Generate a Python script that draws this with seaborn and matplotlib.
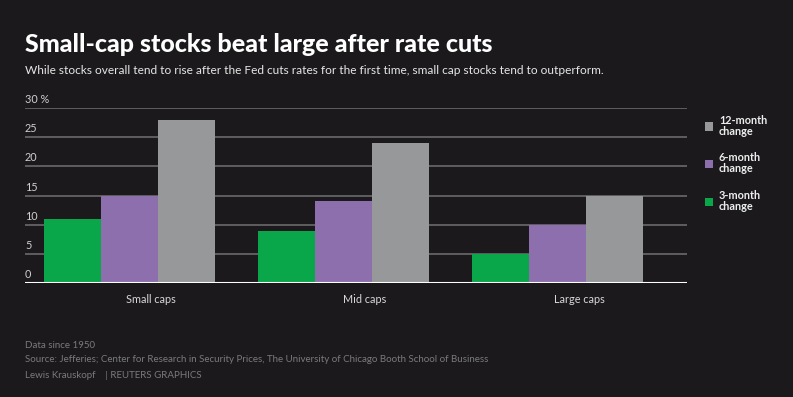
import matplotlib
matplotlib.use("Agg")
import matplotlib.pyplot as plt
import seaborn as sns
import pandas as pd
from matplotlib.patches import Patch

categories = ["Small caps", "Mid caps", "Large caps"]
series_names = ["3-month change", "6-month change", "12-month change"]
three_month = [11, 9, 5]
six_month = [15, 14, 10]
twelve_month = [28, 24, 15]
y_ticks = [0, 5, 10, 15, 20, 25, 30]
y_tick_labels = ["0", "5", "10", "15", "20", "25", "30 %"]
legend_labels = ["3-month\nchange", "6-month\nchange", "12-month\nchange"]

colors = ["#0aa64a", "#8e6fae", "#97989a"]
BG = "#1b191c"

rows = []
for name, vals in zip(series_names, [three_month, six_month, twelve_month]):
    for c, v in zip(categories, vals):
        rows.append({"category": c, "series": name, "value": v})
df = pd.DataFrame(rows)

sns.set_theme(style="dark")
plt.rcParams["font.family"] = ["Lato", "DejaVu Sans"]

fig = plt.figure(figsize=(7.93, 3.97), dpi=100, facecolor=BG)
ax = fig.add_axes([25/793, 1-283/397, (687-25)/793, (283-108)/397])
ax.set_facecolor(BG)

sns.barplot(data=df, x="category", y="value", hue="series", order=categories,
            hue_order=series_names, palette=colors, width=0.8, ax=ax,
            saturation=1, legend=False, linewidth=0)

ax.set_ylim(0, 30)
ax.set_xlim(-0.488, 2.605)
ax.set_yticks(y_ticks)
ax.set_yticklabels([])
ax.tick_params(axis="y", length=0)
ax.grid(False)
for t in y_ticks[1:]:
    ax.axhline(t, color="#6a696c", lw=1.2, zorder=0)
for t, lab in zip(y_ticks, y_tick_labels):
    ax.text(0.0, t + 0.5, lab, transform=ax.get_yaxis_transform(),
            color="#d0d0d0", fontsize=7.8, ha="left", va="bottom")
ax.axhline(0, color="#ffffff", lw=1.5, zorder=5)

ax.set_xticks([0.1, 1.1, 2.1])
ax.set_xticklabels(categories, color="#d8d8d8", fontsize=7.8)
ax.tick_params(axis="x", length=4, width=1, color="#777777", pad=4, direction="out")
ax.set_xlabel("")
ax.set_ylabel("")
for s in ax.spines.values():
    s.set_visible(False)

handles = [Patch(facecolor=c, edgecolor="none") for c in colors]
leg = fig.legend(handles[::-1], legend_labels[::-1], loc="upper left",
                 bbox_to_anchor=(695/793, 1-105/397), frameon=False,
                 handlelength=0.8, handleheight=0.8, handletextpad=0.5,
                 labelspacing=1.45, prop={"weight": "bold", "size": 7.8})
for t in leg.get_texts():
    t.set_color("#eeeeee")
    t.set_linespacing(1.0)

fig.text(25/793, 1-44/397, "Small-cap stocks beat large after rate cuts",
         color="white", fontsize=18, fontweight="black", va="center", ha="left")
fig.text(25/793, 1-71/397,
         "While stocks overall tend to rise after the Fed cuts rates for the first time, small cap stocks tend to outperform.",
         color="#e6e6e6", fontsize=8.6, va="center", ha="left")
footer = ["Data since 1950",
          "Source: Jefferies; Center for Research in Security Prices, The University of Chicago Booth School of Business",
          "Lewis Krauskopf    | REUTERS GRAPHICS"]
for i, line in enumerate(footer):
    fig.text(25/793, 1-(345+15*i)/397, line, color="#7a797c", fontsize=7.0,
             va="center", ha="left")

fig.savefig("out.png", dpi=100, facecolor=BG)
